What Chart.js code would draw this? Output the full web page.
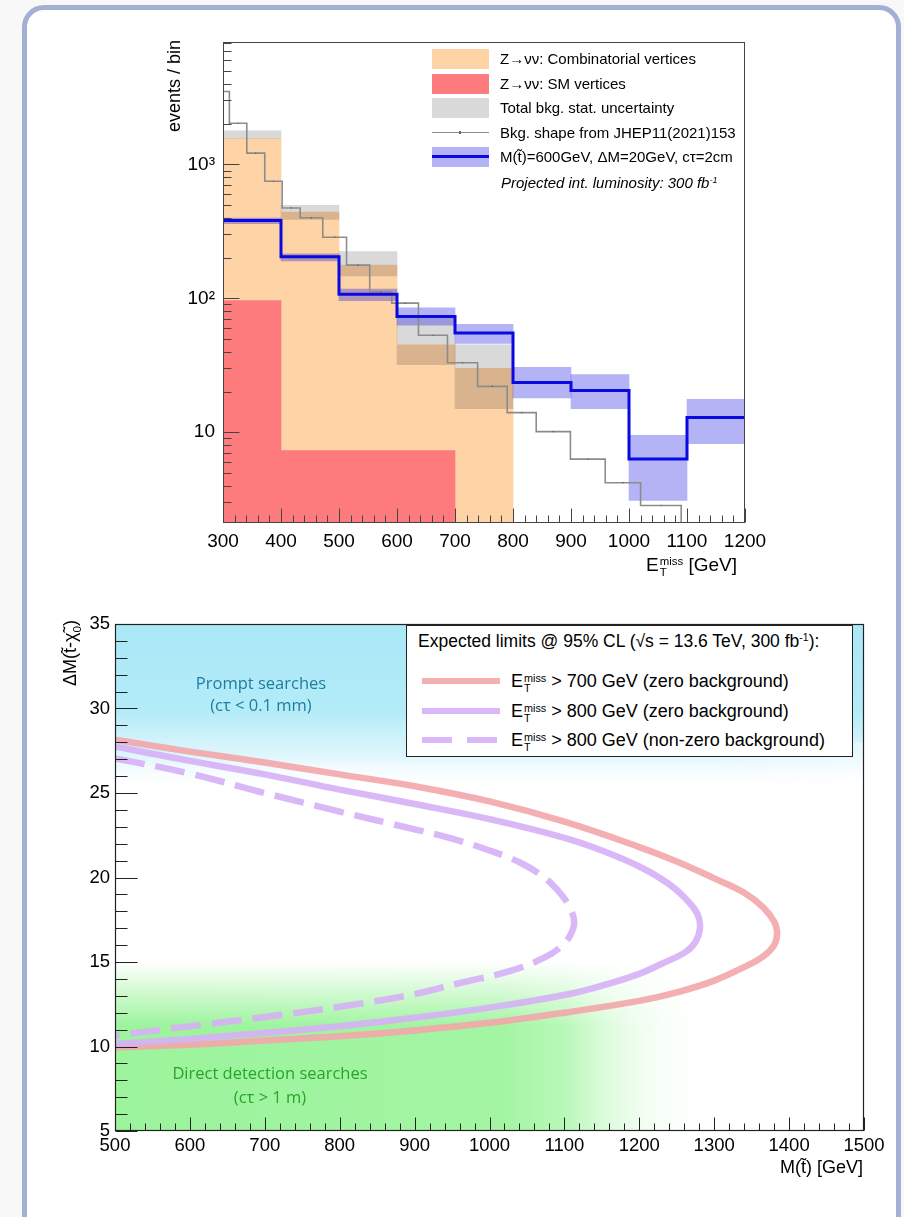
<!DOCTYPE html>
<html>
<head>
<meta charset="utf-8">
<script src="https://cdn.jsdelivr.net/npm/chart.js@4.4.1/dist/chart.umd.min.js"></script>
<style>
  html, body { margin:0; padding:0; }
  body { width:904px; height:1217px; overflow:hidden; position:relative; background:#f8f8f8;
         font-family:"Liberation Sans", Arial, Helvetica, sans-serif; color:#000; }
  #card { position:absolute; left:22px; top:5px; width:879px; height:1240px; box-sizing:border-box;
          border:5px solid #a3afd3; border-radius:22px; background:#fff; }
  .cv { position:absolute; left:0; }
  .abs { position:absolute; white-space:nowrap; }
  .ss { display:inline-flex; flex-direction:column; font-size:0.6em; line-height:0.95; vertical-align:0.5em; margin-left:1px; }
  .rot { position:absolute; transform:rotate(-90deg); transform-origin:0 0; text-align:right; white-space:nowrap; }
  .lg1 { position:absolute; font-size:15px; white-space:nowrap; }
  .sw { position:absolute; width:57px; height:20px; }
  .lg2 { position:absolute; font-size:18px; white-space:nowrap; }
  .ann { position:absolute; font-family:"Open Sans", "Noto Sans", sans-serif; font-size:16.5px; text-align:center; white-space:nowrap; }
</style>
</head>
<body>
<div id="card"></div>
<div class="cv" style="top:0;width:904px;height:600px;"><canvas id="c1" width="904" height="600"></canvas></div>
<div class="cv" style="top:600px;width:904px;height:617px;"><canvas id="c2" width="904" height="617"></canvas></div>

<!-- top chart texts -->
<div class="rot" id="ytitle1" style="left:163px; top:240px; width:200px; font-size:18px; line-height:22px;">events / bin</div>
<div class="abs" style="left:646px; top:554px; font-size:19px;">E<span class="ss"><span>miss</span><span>T</span></span> [GeV]</div>

<div id="legend1"></div>

<!-- bottom chart texts -->
<div class="rot" style="left:58px; top:820px; width:200px; font-size:18px; line-height:24px;">ΔM(t̃-χ̃<sub style="font-size:0.65em">0</sub>)</div>
<div class="abs" style="right:41px; top:1157px; font-size:18px;">M(t̃) [GeV]</div>

<div class="ann" style="left:181px; top:672px; width:160px; color:#1f7d9d; line-height:22px;">Prompt searches<br>(cτ &lt; 0.1 mm)</div>
<div class="ann" style="left:150px; top:1061px; width:240px; color:#28a428; line-height:24px;">Direct detection searches<br>(cτ &gt; 1 m)</div>

<div id="legend2" style="position:absolute; left:406px; top:625px; width:447px; height:132px; background:#fff; border:1.5px solid #222; box-sizing:border-box;"></div>

<script>
// ================= TOP CHART DATA =================
const binCenters   = [350, 450, 550, 650, 750, 850, 950, 1050, 1150];
const combVals     = [1560, 440, 177, 45, 30];          // Z->vv combinatorial (bins 300-800)
const smVals       = [96, 7.3, 7.3, 7.3];               // Z->vv SM vertices (bins 300-700)
const bkgUncLo     = [1560, 388, 147, 32, 15];
const bkgUncHi     = [1780, 495, 223, 73, 45];
const sigVals      = [381, 204, 107, 73, 55, 23.5, 20.5, 6.3, 12.9];
const sigLo        = [361, 190, 96, 63, 46, 18, 15, 3.1, 8.2];
const sigHi        = [398, 215, 117, 85, 64, 30.5, 27, 9.5, 17.6];
const binEdges     = [300, 400, 500, 600, 700, 800, 900, 1000, 1100, 1200];
const jhepEdges    = [300, 311, 341, 372, 402, 433, 472, 513, 553, 591, 637, 687, 739, 790, 840, 899, 959, 1020, 1090];
const jhepVals     = [3500, 2030, 1213, 748, 473, 399, 286, 177, 112, 92, 53, 33, 22, 14, 10.1, 6.3, 4.2, 2.84];
const topXTicks    = [300, 400, 500, 600, 700, 800, 900, 1000, 1100, 1200];
const topYTicks    = [10, 100, 1000];
const topYLabels   = ['10', '10²', '10³'];

// ================= BOTTOM CHART DATA =================
const pinkM  = [500, 600, 700, 800, 900, 1000, 1100, 1200, 1250, 1300, 1340, 1365, 1380, 1384, 1380, 1366, 1340, 1300, 1250, 1200, 1100, 1000, 900, 800, 700, 600, 500];
const pinkDM = [28.15, 27.45, 26.8, 26.1, 25.4, 24.5, 23.3, 21.8, 20.95, 19.95, 19.1, 18.25, 17.4, 16.7, 16.0, 15.35, 14.7, 13.9, 13.2, 12.7, 12.0, 11.4, 10.95, 10.6, 10.35, 10.1, 9.95];
const violM  = [500, 600, 700, 800, 900, 1000, 1100, 1150, 1200, 1240, 1265, 1278, 1281, 1275, 1262, 1230, 1200, 1150, 1100, 1000, 900, 800, 700, 600, 500];
const violDM = [27.75, 26.9, 26.1, 25.2, 24.35, 23.45, 22.35, 21.6, 20.65, 19.6, 18.6, 17.8, 17.0, 16.2, 15.6, 14.9, 14.3, 13.6, 13.05, 12.3, 11.7, 11.2, 10.8, 10.45, 10.15];
const dashM  = [500, 600, 700, 800, 900, 950, 1000, 1040, 1070, 1090, 1105, 1113, 1108, 1095, 1075, 1030, 960, 900, 800, 700, 600, 500];
const dashDM = [27.05, 26.15, 25.0, 23.9, 22.85, 22.3, 21.6, 20.9, 20.1, 19.3, 18.4, 17.4, 16.6, 15.9, 15.3, 14.5, 13.75, 13.1, 12.35, 11.75, 11.2, 10.65];
const botXTicks = [500, 600, 700, 800, 900, 1000, 1100, 1200, 1300, 1400, 1500];
const botYTicks = [5, 10, 15, 20, 25, 30, 35];

// ================= STYLES =================
const C_ORANGE = '#fed3a6';
const C_RED    = '#fd7b7d';
const C_BAND   = 'rgba(0,0,0,0.15)';
const C_SIGBND = 'rgba(10,10,225,0.31)';
const C_SIG    = '#0a0ae0';
const C_JHEP   = '#8c8c8c';
const C_PINK   = 'rgba(243,166,170,0.9)';
const C_VIOL   = 'rgba(214,176,246,0.9)';

Chart.defaults.font.family = '"Liberation Sans", Arial, Helvetica, sans-serif';
Chart.defaults.color = '#000';

const bars = (vals, base) => vals.map((v, i) => ({x: binCenters[i], y: [base, v]}));
const bands = (lo, hi) => lo.map((v, i) => ({x: binCenters[i], y: [v, hi[i]]}));
const steps = (vals) => vals.map((v, i) => ({x: binEdges[i], y: v})).concat([{x: binEdges[vals.length], y: vals[vals.length-1]}]);
const jhepPts = [{x: jhepEdges[0], y: 1}].concat(jhepVals.map((v, i) => ({x: jhepEdges[i], y: v}))).concat([{x: jhepEdges[jhepEdges.length-1], y: 1}]);
const jhepMarks = jhepVals.slice(1).map((v, i) => ({x: (jhepEdges[i + 1] + jhepEdges[i + 2]) / 2, y: v}));
const curve = (m, d) => m.map((v, i) => ({x: v, y: d[i]}));

// ---------- plugin: ROOT-style frame with inner ticks ----------
const rootFrame = {
  id: 'rootFrame',
  afterDatasetsDraw(chart, args, o) {
    const {ctx, chartArea: a, scales: {x, y}} = chart;
    ctx.save();
    ctx.strokeStyle = o.color; ctx.lineWidth = 1;
    const L = Math.round(a.left) + 0.5, R = Math.round(a.right) - 0.5, T = Math.round(a.top) + 0.5, B = Math.round(a.bottom) - 0.5;
    ctx.beginPath();
    for (let v = x.min; v <= x.max + 1e-9; v += o.xMinor) {
      const px = Math.round(x.getPixelForValue(v)) + 0.5;
      const major = Math.abs(v / o.xMajor - Math.round(v / o.xMajor)) < 1e-6;
      const len = major ? o.xMajorLen : o.xMinorLen;
      ctx.moveTo(px, B); ctx.lineTo(px, B - len);
    }
    o.yTickVals(y).forEach(t => {
      const py = Math.round(y.getPixelForValue(t.v)) + 0.5;
      if (py < a.top - 0.5 || py > a.bottom + 0.5) return;
      ctx.moveTo(L, py); ctx.lineTo(L + (t.major ? o.yMajorLen : o.yMinorLen), py);
    });
    ctx.stroke();
    ctx.lineWidth = o.frameWidth;
    ctx.strokeRect(L, T, R - L, B - T);
    ctx.restore();
  }
};

// ---------- plugin: bottom chart shaded regions ----------
const regions = {
  id: 'regions',
  beforeDatasetsDraw(chart) {
    const {ctx, chartArea: a, scales: {x, y}} = chart;
    ctx.save();
    ctx.beginPath(); ctx.rect(a.left, a.top, a.right - a.left, a.bottom - a.top); ctx.clip();
    const y35 = y.getPixelForValue(35), yA = y.getPixelForValue(29.8), yB = y.getPixelForValue(25.2);
    let g = ctx.createLinearGradient(0, y35, 0, yB);
    g.addColorStop(0, '#a9e8f8');
    g.addColorStop((yA - y35) / (yB - y35), '#b4ebf8');
    g.addColorStop(0.8, 'rgba(215,244,252,0.8)');
    g.addColorStop(1, 'rgba(255,255,255,0)');
    ctx.fillStyle = g; ctx.fillRect(a.left, y35, a.right - a.left, yB - y35);
    let gh = ctx.createLinearGradient(x.getPixelForValue(1300), 0, x.getPixelForValue(1500), 0);
    gh.addColorStop(0, 'rgba(255,255,255,0)'); gh.addColorStop(1, 'rgba(255,255,255,0.35)');
    ctx.fillStyle = gh; ctx.fillRect(x.getPixelForValue(1300), y.getPixelForValue(28), x.getPixelForValue(1500) - x.getPixelForValue(1300), yB - y.getPixelForValue(28));
    const y5 = y.getPixelForValue(5), yG = y.getPixelForValue(15);
    let gg = ctx.createLinearGradient(x.getPixelForValue(500), 0, x.getPixelForValue(1500), 0);
    gg.addColorStop(0, '#9cf49c');
    gg.addColorStop(0.52, '#a3f5a3');
    gg.addColorStop(0.6, 'rgba(178,247,178,0.92)');
    gg.addColorStop(0.67, 'rgba(212,251,212,0.65)');
    gg.addColorStop(0.74, 'rgba(240,254,240,0.35)');
    gg.addColorStop(0.82, 'rgba(255,255,255,0)');
    ctx.fillStyle = gg; ctx.fillRect(a.left, yG, a.right - a.left, y5 - yG);
    const yF0 = y.getPixelForValue(11.2);
    let gv = ctx.createLinearGradient(0, yF0, 0, yG);
    gv.addColorStop(0, 'rgba(255,255,255,0)');
    gv.addColorStop(0.6, 'rgba(255,255,255,0.6)');
    gv.addColorStop(1, 'rgba(255,255,255,1)');
    ctx.fillStyle = gv; ctx.fillRect(a.left, yG, a.right - a.left, yF0 - yG);
    ctx.restore();
  }
};

// ================= TOP CHART =================
new Chart(document.getElementById('c1'), {
  type: 'bar',
  data: {
    datasets: [
      {label: 'Z→νν: Combinatorial vertices', data: bars(combVals, 0.5), backgroundColor: C_ORANGE, order: 7},
      {label: 'Z→νν: SM vertices', data: bars(smVals, 0.5), backgroundColor: C_RED, order: 6},
      {label: 'Total bkg. stat. uncertainty', data: bands(bkgUncLo, bkgUncHi), backgroundColor: C_BAND, order: 5},
      {label: 'signal band', data: bands(sigLo, sigHi), backgroundColor: C_SIGBND, order: 4},
      {type: 'line', label: 'Bkg. shape from JHEP11(2021)153', data: jhepPts, stepped: 'before', borderColor: C_JHEP, borderWidth: 1.6, pointRadius: 0, fill: false, order: 3},
      {type: 'scatter', label: 'JHEP markers', data: jhepMarks, pointStyle: 'rect', pointRadius: 0.8, backgroundColor: '#555', borderWidth: 0, order: 2},
      {type: 'line', label: 'M(t̃)=600GeV, ΔM=20GeV, cτ=2cm', data: steps(sigVals), stepped: 'before', borderColor: C_SIG, borderWidth: 3, pointRadius: 0, fill: false, order: 1}
    ]
  },
  options: {
    responsive: false, animation: false, devicePixelRatio: 1,
    layout: {padding: {left: 163, right: 159, top: 42, bottom: 37}},
    datasets: {bar: {grouped: false, barPercentage: 1, categoryPercentage: 1, borderWidth: 0}},
    plugins: {
      legend: {display: false}, tooltip: {enabled: false},
      rootFrame: {color: '#444', frameWidth: 1, xMinor: 20, xMajor: 100, xMajorLen: 14, xMinorLen: 7, yMajorLen: 16, yMinorLen: 8,
        yTickVals: (y) => { const out = []; for (let d = 1; d <= 1000; d *= 10) for (let k = 1; k <= 9; k++) out.push({v: k * d, major: k === 1}); return out; }}
    },
    scales: {
      x: {type: 'linear', min: 300, max: 1200, offset: false,
          grid: {display: false, drawTicks: false}, border: {display: false},
          afterBuildTicks: (ax) => { ax.ticks = topXTicks.map(v => ({value: v})); },
          afterFit: (ax) => { ax.height = 40; },
          ticks: {padding: 7, font: {size: 19}, maxRotation: 0, autoSkip: false, callback: (v) => String(v)}},
      y: {type: 'logarithmic', min: 2.1, max: 8200,
          grid: {display: false, drawTicks: false}, border: {display: false},
          afterBuildTicks: (ax) => { ax.ticks = topYTicks.map(v => ({value: v})); },
          afterFit: (ax) => { ax.width = 60; },
          ticks: {padding: 8, font: {size: 19}, autoSkip: false, callback: (v) => topYLabels[topYTicks.indexOf(v)]}}
    }
  },
  plugins: [rootFrame]
});

// ================= BOTTOM CHART =================
new Chart(document.getElementById('c2'), {
  type: 'scatter',
  data: {
    datasets: [
      {label: 'E_T^miss > 700 GeV (zero background)', data: curve(pinkM, pinkDM), showLine: true, borderColor: C_PINK, borderWidth: 6.5, pointRadius: 0, tension: 0.4, borderJoinStyle: 'round', order: 3},
      {label: 'E_T^miss > 800 GeV (zero background)', data: curve(violM, violDM), showLine: true, borderColor: C_VIOL, borderWidth: 6.5, pointRadius: 0, tension: 0.4, borderJoinStyle: 'round', order: 2},
      {label: 'E_T^miss > 800 GeV (non-zero background)', data: curve(dashM, dashDM), showLine: true, borderColor: C_VIOL, borderWidth: 6.5, borderDash: [30, 11], pointRadius: 0, tension: 0.4, order: 1}
    ]
  },
  options: {
    responsive: false, animation: false, devicePixelRatio: 1,
    layout: {padding: {left: 65, right: 40, top: 24, bottom: 46}},
    plugins: {
      legend: {display: false}, tooltip: {enabled: false},
      rootFrame: {color: '#222', frameWidth: 1.2, xMinor: 20, xMajor: 100, xMajorLen: 13, xMinorLen: 7, yMajorLen: 22, yMinorLen: 12,
        yTickVals: (y) => { const out = []; for (let v = 5; v <= 35; v += 1) out.push({v, major: v % 5 === 0}); return out; }}
    },
    scales: {
      x: {type: 'linear', min: 500, max: 1500,
          grid: {display: false, drawTicks: false}, border: {display: false},
          afterBuildTicks: (ax) => { ax.ticks = botXTicks.map(v => ({value: v})); },
          afterFit: (ax) => { ax.height = 40; },
          ticks: {padding: 4, font: {size: 18.5}, maxRotation: 0, autoSkip: false, callback: (v) => String(v)}},
      y: {type: 'linear', min: 5, max: 35,
          grid: {display: false, drawTicks: false}, border: {display: false},
          afterBuildTicks: (ax) => { ax.ticks = botYTicks.map(v => ({value: v})); },
          afterFit: (ax) => { ax.width = 50; },
          ticks: {padding: 5, font: {size: 18.5}, autoSkip: false, callback: (v) => String(v)}}
    }
  },
  plugins: [regions, rootFrame]
});

// ================= LEGENDS (HTML) =================
const lg1 = document.getElementById('legend1');
const rowsY = [59, 84, 108, 132.5, 156.5];
const swL = 432;
const items1 = [
  {bg: C_ORANGE, text: 'Z→νν: Combinatorial vertices'},
  {bg: C_RED, text: 'Z→νν: SM vertices'},
  {bg: '#d9d9d9', text: 'Total bkg. stat. uncertainty'},
  {line: C_JHEP, text: 'Bkg. shape from JHEP11(2021)153'},
  {bg: 'rgba(10,10,225,0.31)', line2: C_SIG, text: 'M(t̃)=600GeV, ΔM=20GeV, cτ=2cm'}
];
let h1 = '';
items1.forEach((it, i) => {
  const cy = rowsY[i];
  if (it.bg) h1 += `<div class="sw" style="left:${swL}px; top:${cy - 10}px; background:${it.bg};"></div>`;
  if (it.line) {
    h1 += `<div class="abs" style="left:${swL}px; top:${cy - 0.75}px; width:57px; height:1.5px; background:${it.line};"></div>`;
    h1 += `<div class="abs" style="left:${swL + 27}px; top:${cy - 1.5}px; width:2px; height:3px; background:#666;"></div>`;
  }
  if (it.line2) h1 += `<div class="abs" style="left:${swL}px; top:${cy - 1.5}px; width:57px; height:3px; background:${it.line2};"></div>`;
  h1 += `<div class="lg1" style="left:500px; top:${cy - 9}px; line-height:18px;">${it.text}</div>`;
});
h1 += `<div class="lg1" style="left:501px; top:171px; line-height:18px; font-style:italic;">Projected int. luminosity: 300 fb<sup style="font-size:0.6em; vertical-align:0.55em;">-1</sup></div>`;
lg1.innerHTML = h1;

const lg2 = document.getElementById('legend2');
const et = `E<span class="ss"><span>miss</span><span>T</span></span>`;
let h2 = `<div class="lg2" style="left:11px; top:5px; font-size:17.5px;">Expected limits @ 95% CL (√s = 13.6 TeV, 300 fb<sup style="font-size:0.6em; vertical-align:0.55em;">-1</sup>):</div>`;
const ent = [
  {c: C_PINK, dash: false, t: '&gt; 700 GeV (zero background)'},
  {c: C_VIOL, dash: false, t: '&gt; 800 GeV (zero background)'},
  {c: C_VIOL, dash: true,  t: '&gt; 800 GeV (non-zero background)'}
];
const entY = [55, 85, 114];
ent.forEach((e, i) => {
  const cy = entY[i];
  if (e.dash) {
    h2 += `<div class="abs" style="left:15px; top:${cy - 3.25}px; width:30px; height:6.5px; background:${e.c};"></div>`;
    h2 += `<div class="abs" style="left:60px; top:${cy - 3.25}px; width:30px; height:6.5px; background:${e.c};"></div>`;
  } else {
    h2 += `<div class="abs" style="left:15px; top:${cy - 3.25}px; width:78px; height:6.5px; background:${e.c};"></div>`;
  }
  h2 += `<div class="lg2" style="left:104px; top:${cy - 12}px; line-height:24px;">${et} ${e.t}</div>`;
});
lg2.innerHTML = h2;
</script>
</body>
</html>
